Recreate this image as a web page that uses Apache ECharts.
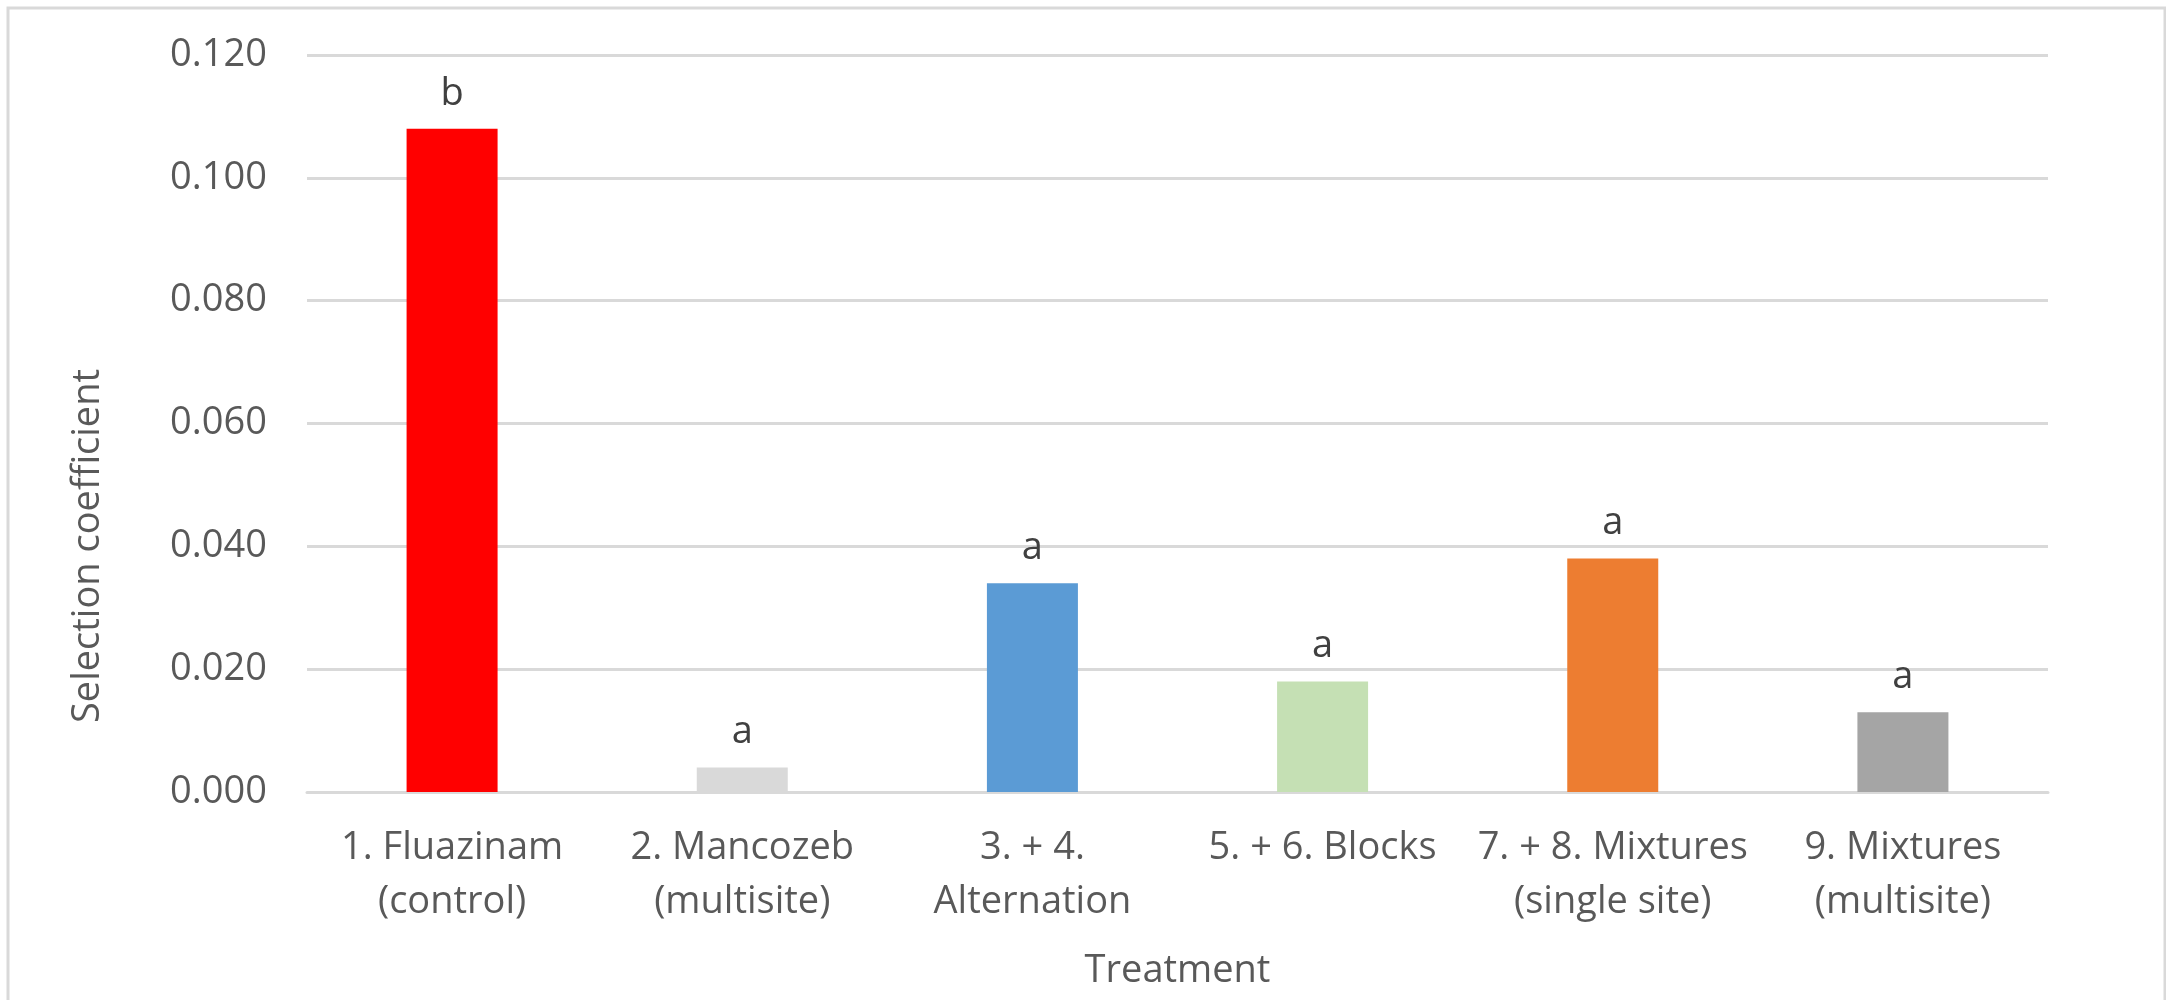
<!DOCTYPE html>
<html>
<head>
<meta charset="utf-8">
<title>Selection coefficient by treatment</title>
<script src="https://cdn.jsdelivr.net/npm/echarts@6/dist/echarts.min.js"></script>
<style>
    html, body { margin: 0; padding: 0; background: #fff; }
    #selection_chart { width: 2166px; height: 1000px; }
</style>
</head>
<body>
<div id="selection_chart"></div>
<script>

// Chart data
// ------------------------------

var categories = [
    '1. Fluazinam\n(control)',
    '2. Mancozeb\n(multisite)',
    '3. + 4.\nAlternation',
    '5. + 6. Blocks',
    '7. + 8. Mixtures\n(single site)',
    '9. Mixtures\n(multisite)'
];
var coefficients = [0.108, 0.004, 0.034, 0.018, 0.038, 0.013];
var groupLetters = ['b', 'a', 'a', 'a', 'a', 'a'];
var barColors = ['#ff0000', '#d9d9d9', '#5b9bd5', '#c5e0b4', '#ed7d31', '#a5a5a5'];
var yTicks = [0, 0.02, 0.04, 0.06, 0.08, 0.10, 0.12];


// Setup chart
// ------------------------------

var chart_element = document.getElementById('selection_chart');
var selection_chart = echarts.init(chart_element, null, { renderer: 'canvas' });

var fontFamily = '"Open Sans", "Noto Sans", sans-serif';
var textGray = '#595959';

selection_chart.setOption({

    animation: false,
    backgroundColor: '#fff',

    textStyle: {
        fontFamily: fontFamily,
        fontSize: 38,
        color: textGray
    },

    // Outer chart frame
    graphic: [{
        type: 'rect',
        silent: true,
        shape: { x: 8, y: 8, width: 2157, height: 1100 },
        style: { fill: 'none', stroke: '#d9d9d9', lineWidth: 3 }
    }],

    grid: {
        left: 307,
        right: 118,
        top: 55,
        bottom: 208
    },

    // Horizontal axis
    xAxis: {
        type: 'category',
        data: categories,
        name: 'Treatment',
        nameLocation: 'middle',
        nameGap: 160,
        nameTextStyle: {
            fontFamily: fontFamily,
            fontSize: 38,
            color: textGray
        },
        axisLine: {
            lineStyle: { color: '#d9d9d9', width: 3 }
        },
        axisTick: { show: false },
        axisLabel: {
            interval: 0,
            margin: 29,
            fontFamily: fontFamily,
            fontSize: 38,
            lineHeight: 54,
            color: textGray
        }
    },

    // Vertical axis
    yAxis: {
        type: 'value',
        min: yTicks[0],
        max: yTicks[yTicks.length - 1],
        interval: 0.02,
        name: 'Selection coefficient',
        nameLocation: 'middle',
        nameRotate: 90,
        nameGap: 200,
        nameTextStyle: {
            fontFamily: fontFamily,
            fontSize: 38,
            color: textGray,
            padding: [0, 245, 0, 0]
        },
        axisLine: { show: false },
        axisTick: { show: false },
        axisLabel: {
            margin: 40,
            fontFamily: fontFamily,
            fontSize: 38,
            color: textGray,
            formatter: function (value) {
                return value.toFixed(3);
            }
        },
        splitLine: {
            lineStyle: { color: '#d9d9d9', width: 3 }
        }
    },

    series: [{
        type: 'bar',
        barWidth: 91,
        data: coefficients.map(function (value, i) {
            return {
                value: value,
                itemStyle: { color: barColors[i] }
            };
        }),
        label: {
            show: true,
            position: 'top',
            distance: 16,
            fontFamily: fontFamily,
            fontSize: 38,
            color: '#404040',
            formatter: function (params) {
                return groupLetters[params.dataIndex];
            }
        }
    }]
});
</script>
</body>
</html>
